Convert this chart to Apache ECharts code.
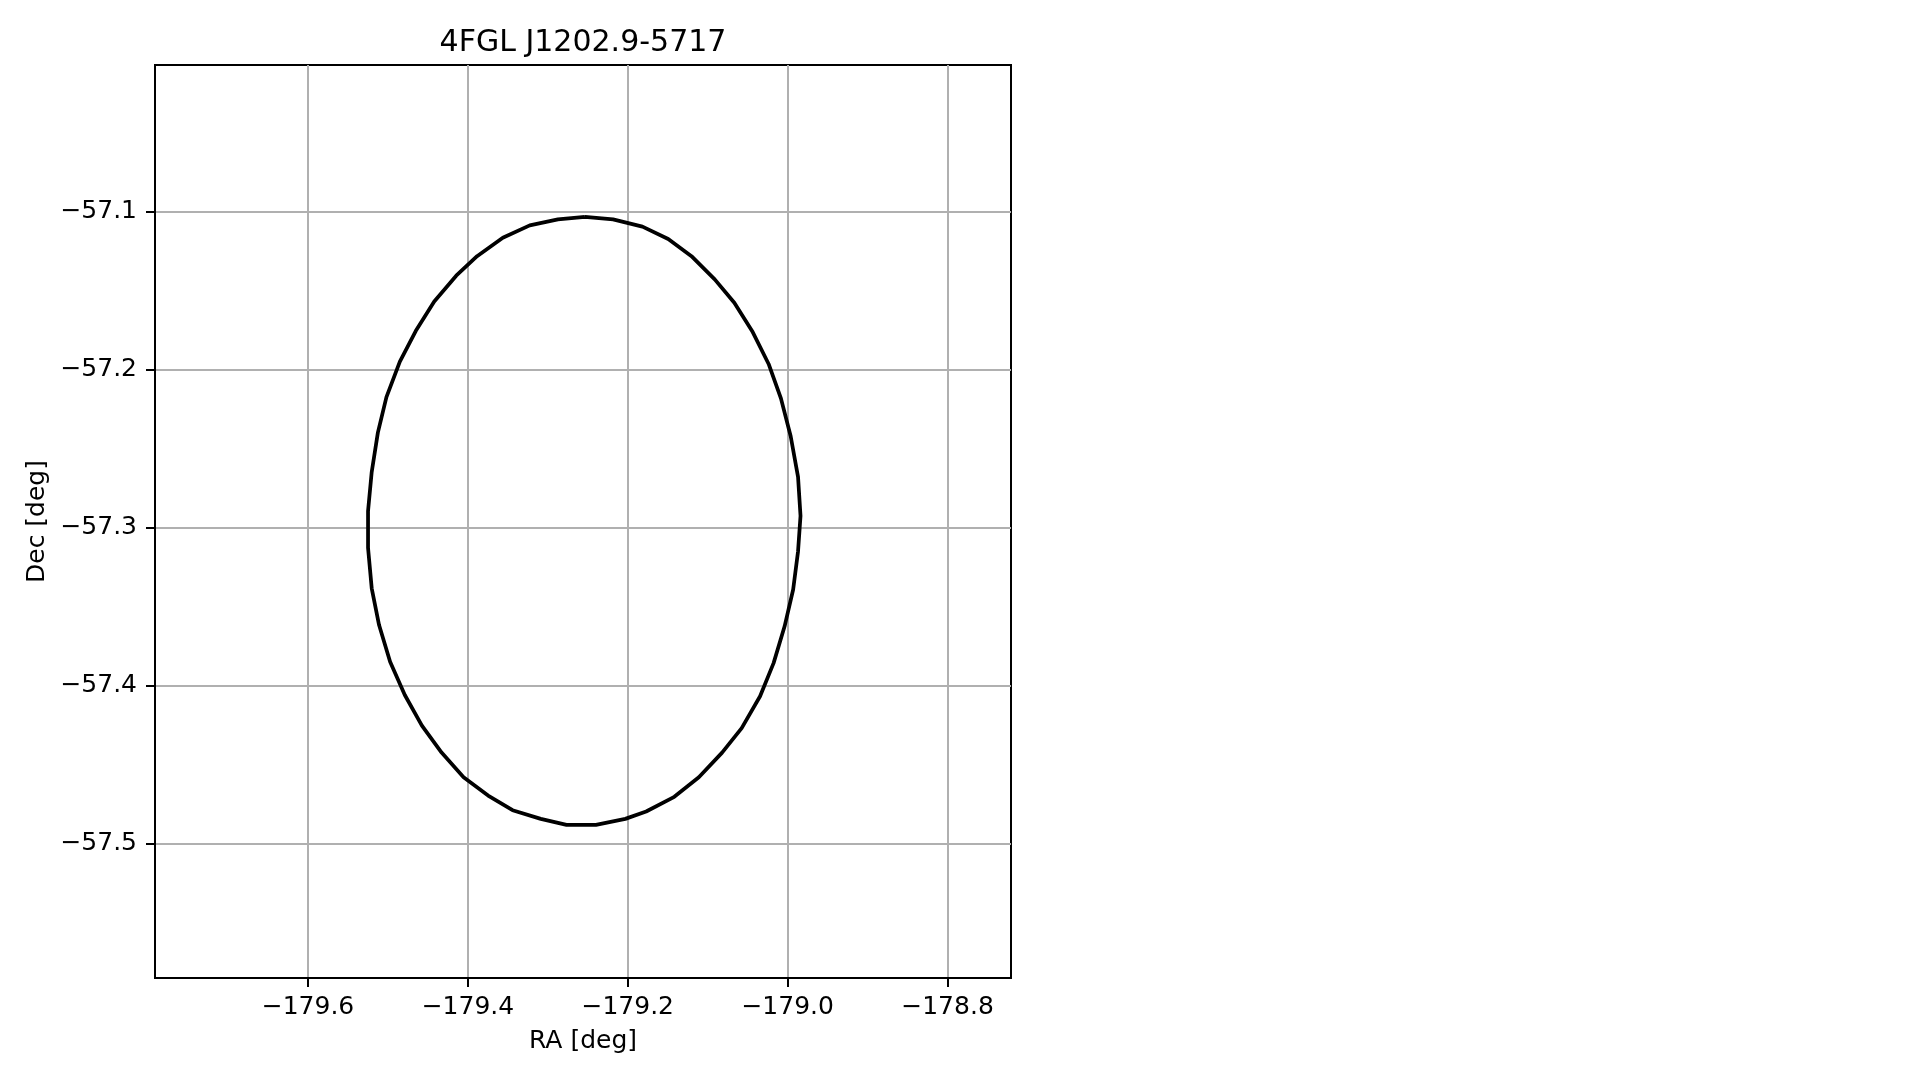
<!DOCTYPE html>
<html>
<head>
<meta charset="utf-8">
<script src="https://cdn.jsdelivr.net/npm/echarts@6/dist/echarts.min.js"></script>
<style>
html,body{margin:0;padding:0;background:#fff;}
#chart{width:1919px;height:1080px;}
</style>
</head>
<body>
<div id="chart"></div>
<script>
const chartTitle = '4FGL J1202.9-5717';
const xTicks = [-179.6, -179.4, -179.2, -179.0, -178.8];
const yTicks = [-57.1, -57.2, -57.3, -57.4, -57.5];
const raRange = [-179.7914, -178.7206];
const decRange = [-57.5853, -57.0069];
const ellipseRA = [
  -179.2536, -179.2184, -179.1816, -179.1494, -179.1203, -179.0912, -179.0667, -179.0437,
  -179.0238, -179.0084, -178.9962, -178.9870, -178.9839, -178.9870, -178.9931, -179.0038,
  -179.0176, -179.0345, -179.0575, -179.0820, -179.1111, -179.1418, -179.1770, -179.2031,
  -179.2398, -179.2766, -179.3088, -179.3441, -179.3747, -179.4054, -179.4329, -179.4575,
  -179.4789, -179.4973, -179.5111, -179.5203, -179.5249, -179.5249, -179.5203, -179.5126,
  -179.5019, -179.4851, -179.4651, -179.4421, -179.4146, -179.3885, -179.3563, -179.3226,
  -179.2874, -179.2536
];
const ellipseDec = [
  -57.1031, -57.1047, -57.1093, -57.1171, -57.1280, -57.1427, -57.1575, -57.1761,
  -57.1963, -57.2181, -57.2421, -57.2678, -57.2926, -57.3151, -57.3392, -57.3625,
  -57.3858, -57.4068, -57.4270, -57.4425, -57.4581, -57.4705, -57.4798, -57.4845,
  -57.4883, -57.4883, -57.4845, -57.4790, -57.4697, -57.4581, -57.4425, -57.4254,
  -57.4060, -57.3850, -57.3617, -57.3384, -57.3128, -57.2895, -57.2647, -57.2398,
  -57.2173, -57.1948, -57.1753, -57.1567, -57.1404, -57.1280, -57.1163, -57.1085,
  -57.1047, -57.1031
];

const FONT = 'DejaVu Sans';
const fmt = v => Number(v).toFixed(1).replace('-', '\u2212');
const pts = ellipseRA.map((x, i) => [x, ellipseDec[i]]);

const chart = echarts.init(document.getElementById('chart'), null, {renderer: 'canvas'});
chart.setOption({
  animation: false,
  backgroundColor: '#ffffff',
  title: {
    text: chartTitle,
    left: 578, top: 23, textAlign: 'center',
    textStyle: {fontFamily: FONT, fontSize: 30, fontWeight: 'normal', color: '#000'}
  },
  grid: {
    left: 155, top: 65, width: 856, height: 913,
    show: true, borderColor: '#000', borderWidth: 2, backgroundColor: 'transparent'
  },
  xAxis: {
    type: 'value', min: raRange[0], max: raRange[1],
    name: 'RA [deg]', nameLocation: 'middle', nameGap: 51,
    nameTextStyle: {fontFamily: FONT, fontSize: 25, color: '#000'},
    axisLine: {show: true, lineStyle: {color: '#000', width: 2}},
    axisTick: {show: true, customValues: xTicks, length: 9, lineStyle: {color: '#000', width: 2}},
    axisLabel: {customValues: xTicks, formatter: fmt, margin: 17, fontFamily: FONT, fontSize: 25, color: '#000'},
    splitLine: {show: true, lineStyle: {color: '#b0b0b0', width: 2}}
  },
  yAxis: {
    type: 'value', min: decRange[0], max: decRange[1],
    name: 'Dec [deg]', nameLocation: 'middle', nameGap: 105, nameRotate: 90,
    nameTextStyle: {fontFamily: FONT, fontSize: 25, color: '#000'},
    axisLine: {show: true, lineStyle: {color: '#000', width: 2}},
    axisTick: {show: true, customValues: yTicks, length: 9, lineStyle: {color: '#000', width: 2}},
    axisLabel: {customValues: yTicks, formatter: fmt, margin: 18, fontFamily: FONT, fontSize: 25, color: '#000'},
    splitLine: {show: true, lineStyle: {color: '#b0b0b0', width: 2}}
  },
  series: [{
    type: 'line',
    data: pts,
    symbol: 'none',
    smooth: false,
    lineStyle: {color: '#000', width: 3.75},
    z: 5
  }]
});
</script>
</body>
</html>
